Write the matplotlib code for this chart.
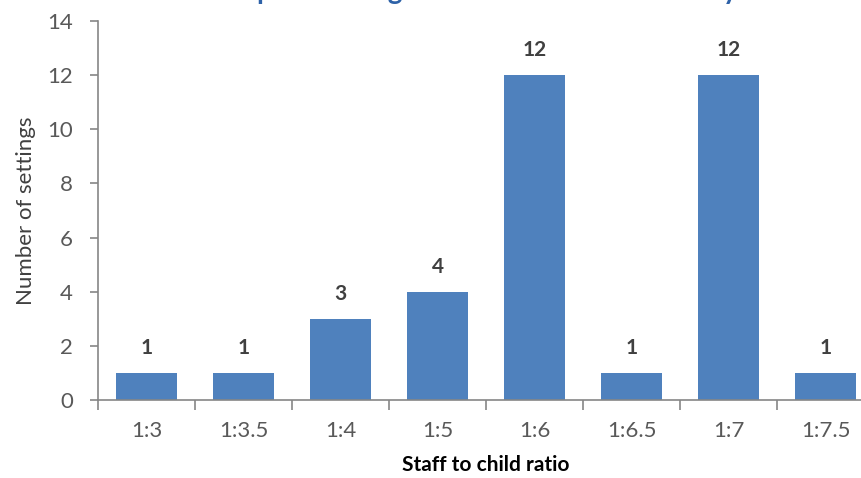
import matplotlib
matplotlib.use("Agg")
import matplotlib.pyplot as plt
import numpy as np

# Data
ratios = ["1:3", "1:3.5", "1:4", "1:5", "1:6", "1:6.5", "1:7", "1:7.5"]
settings = [1, 1, 3, 4, 12, 1, 12, 1]

title = "Staff ratios in sampled settings for children under three years"
bar_color = "#4f81bd"
axis_color = "#868686"
text_color = "#404040"

plt.rcParams["font.family"] = ["Lato", "DejaVu Sans"]

fig = plt.figure(figsize=(8.62, 4.78), dpi=100)
ax = fig.add_axes([98 / 862, 78 / 478, 776 / 862, 379 / 478])

x = np.arange(len(ratios))
bars = ax.bar(x, settings, width=0.62, color=bar_color, zorder=2)

for xi, v in zip(x, settings):
    ax.annotate(str(v), (xi, v), xytext=(0, 18), textcoords="offset points",
                ha="center", va="center", fontsize=15, fontweight="bold",
                color=text_color)

ax.set_xlim(-0.5, len(ratios) - 0.5)
ax.set_ylim(0, 14)
ax.set_yticks(np.arange(0, 15, 2))

# category labels at centres, tick marks at category boundaries
ax.set_xticks(x)
ax.set_xticklabels(ratios)
ax.set_xticks(np.arange(-0.5, len(ratios), 1.0), minor=True)
ax.tick_params(axis="x", which="major", length=0, pad=15, labelsize=16,
               labelcolor="#595959")
ax.tick_params(axis="x", which="minor", length=7, width=1.2, color=axis_color,
               direction="out")
ax.tick_params(axis="y", length=6, width=1.2, color=axis_color, labelsize=16,
               labelcolor="#595959", pad=12)

for side in ("top", "right"):
    ax.spines[side].set_visible(False)
for side in ("left", "bottom"):
    ax.spines[side].set_color(axis_color)
    ax.spines[side].set_linewidth(1.2)

ax.set_xlabel("Staff to child ratio", fontsize=15, fontweight="bold",
              color="black", labelpad=10)
ax.set_ylabel("Number of settings", fontsize=16, color=text_color, labelpad=8)

fig.text(0.478, 1.0 + 1 / 478, title, ha="center", va="baseline", fontsize=20,
         fontweight="bold", color="#2e62a8")

fig.savefig("out.png", dpi=100)
